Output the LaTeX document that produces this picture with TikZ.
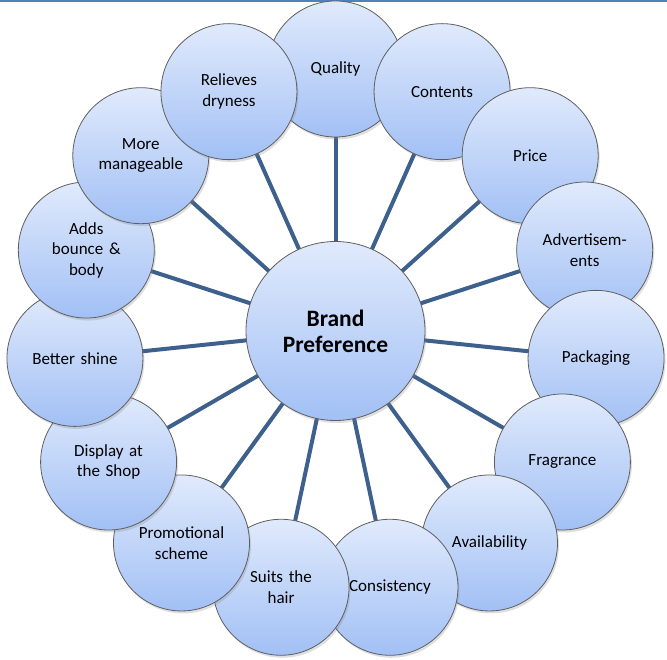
\documentclass[tikz,border=0pt]{standalone}
\usepackage{fontspec}
\setmainfont{Carlito}
\usetikzlibrary{shadows,calc}
\definecolor{spoke}{RGB}{62,96,140}
\definecolor{ctop}{RGB}{224,234,252}
\definecolor{cbot}{RGB}{162,192,245}
\definecolor{rim}{RGB}{95,95,95}
\definecolor{topline}{RGB}{79,129,189}
\begin{document}
\begin{tikzpicture}[x=1pt,y=1pt,
  bubble/.style={circle, draw=rim, line width=0.8pt, top color=ctop, bottom color=cbot,
    minimum size=136pt, inner sep=0pt, align=center, text width=110pt,
    font=\fontsize{17}{20.5}\selectfont,
    drop shadow={opacity=0.25, shadow xshift=1.5pt, shadow yshift=-2.5pt}},
  hub/.style={bubble, minimum size=179pt, text width=150pt,
    font=\bfseries\fontsize{23.5}{26}\selectfont},
  spokeline/.style={draw=spoke, line width=4pt}]
\useasboundingbox (0,0) rectangle (667,659);
\draw[topline, line width=2pt] (0,658) -- (667,658);
\coordinate (c0) at (335.5,328);
% spokes
\foreach \a [count=\i] in {90,66,42,18,-6,-30,-54,-78,-102,-126,-150,-174,162,138,114}
  \coordinate (p\i) at ($(c0)+(\a:262)$);
\foreach \i in {1,...,15}
  \draw[spokeline] (c0) -- (p\i);
\node[hub] (c) at (c0) {Brand\\Preference};
\foreach \t [count=\i] in {Quality, Contents, Price, {Advertisem-\\ents}, Packaging,
  Fragrance, Availability, Consistency, {Suits the\\hair}, {Promotional\\scheme},
  {Display at\\the Shop}, {Better shine}, {Adds\\bounce \&\\body}, {More\\manageable},
  {Relieves\\dryness}}
  \node[bubble] (n\i) at (p\i) {\t};
\end{tikzpicture}
\end{document}
